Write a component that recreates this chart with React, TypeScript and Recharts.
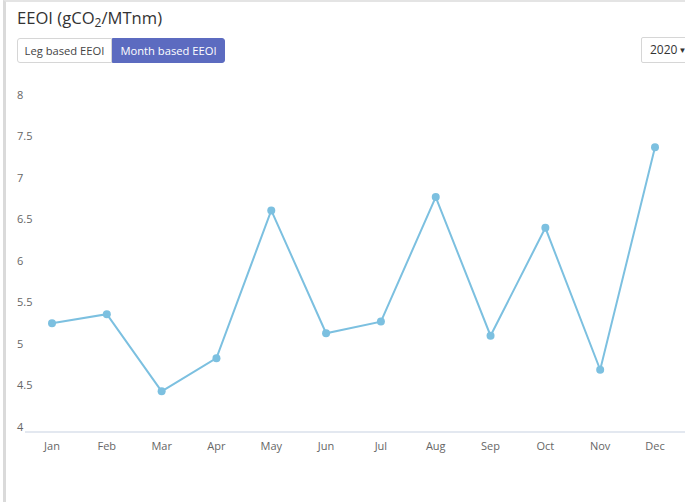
import { Line, LineChart, XAxis, YAxis } from "recharts";

const months = ["Jan", "Feb", "Mar", "Apr", "May", "Jun", "Jul", "Aug", "Sep", "Oct", "Nov", "Dec"];
const eeoi = [5.31, 5.42, 4.49, 4.89, 6.67, 5.19, 5.33, 6.83, 5.16, 6.46, 4.75, 7.43];
const yTicks = [4, 4.5, 5, 5.5, 6, 6.5, 7, 7.5, 8];

const data = months.map((m, i) => ({ month: m, eeoi: eeoi[i] }));

const font = "'Open Sans', 'Noto Sans', sans-serif";

const YTick = ({ y, payload }: any) => (
  <text x={17} y={y - 5} dy="0.35em" textAnchor="start" fill="#666" fontSize={11} fontFamily={font}>
    {payload.value}
  </text>
);

const btn = {
  height: 25,
  boxSizing: "border-box" as const,
  padding: 0,
  fontSize: 11.2,
  lineHeight: "23px",
  textAlign: "center" as const,
  whiteSpace: "nowrap" as const,
  border: "1px solid #d6d6d6",
};

export default function App() {
  return (
    <div style={{ position: "absolute", left: 0, top: 0, width: 685, height: 502, overflow: "hidden", background: "#fff", fontFamily: font }}>
      <div style={{ position: "absolute", left: 3, top: 0, width: 700, height: 510, borderLeft: "3px solid #dadada", borderTop: "2px solid #e4e4e4" }} />
      <div style={{ position: "absolute", left: 17, top: 6, fontSize: 16.6, color: "#333" }}>
        EEOI (gCO<sub style={{ fontSize: 12, verticalAlign: "-3px" }}>2</sub>/MTnm)
      </div>
      <div style={{ position: "absolute", left: 17, top: 38, display: "flex" }}>
        <div style={{ ...btn, color: "#444", background: "#fff", borderRadius: "3px 0 0 3px", width: 95 }}>Leg based EEOI</div>
        <div style={{ ...btn, color: "#fff", background: "#5c6bc0", border: "1px solid #5c6bc0", borderRadius: "0 3px 3px 0", width: 113 }}>Month based EEOI</div>
      </div>
      <div style={{ ...btn, position: "absolute", left: 641, top: 37, width: 60, height: 26, color: "#333", background: "#fff", borderRadius: 2, padding: "0 0 0 8px", textAlign: "left", fontSize: 12, lineHeight: "24px" }}>
        2020<span style={{ fontSize: 8, marginLeft: 1, verticalAlign: "1px" }}>▼</span>
      </div>
      <div style={{ position: "absolute", left: 0, top: 80 }}>
        <LineChart width={685} height={420} data={data} margin={{ top: 20, right: 0, left: 0, bottom: 0 }}>
          <XAxis
            dataKey="month"
            height={68}
            padding={{ left: 27, right: 30 }}
            axisLine={{ stroke: "#e3e8f0", strokeWidth: 2 }}
            tickLine={false}
            tickMargin={4}
            tick={{ fill: "#666", fontSize: 11, fontFamily: font }}
            interval={0}
          />
          <YAxis
            width={25}
            domain={[4, 8]}
            ticks={yTicks}
            axisLine={false}
            tickLine={false}
            tick={<YTick />}
            interval={0}
          />
          <Line
            type="linear"
            dataKey="eeoi"
            stroke="#7cc0e0"
            strokeWidth={2}
            dot={{ r: 4, fill: "#7cc0e0", stroke: "#7cc0e0", strokeWidth: 0 }}
            isAnimationActive={false}
          />
        </LineChart>
      </div>
    </div>
  );
}
